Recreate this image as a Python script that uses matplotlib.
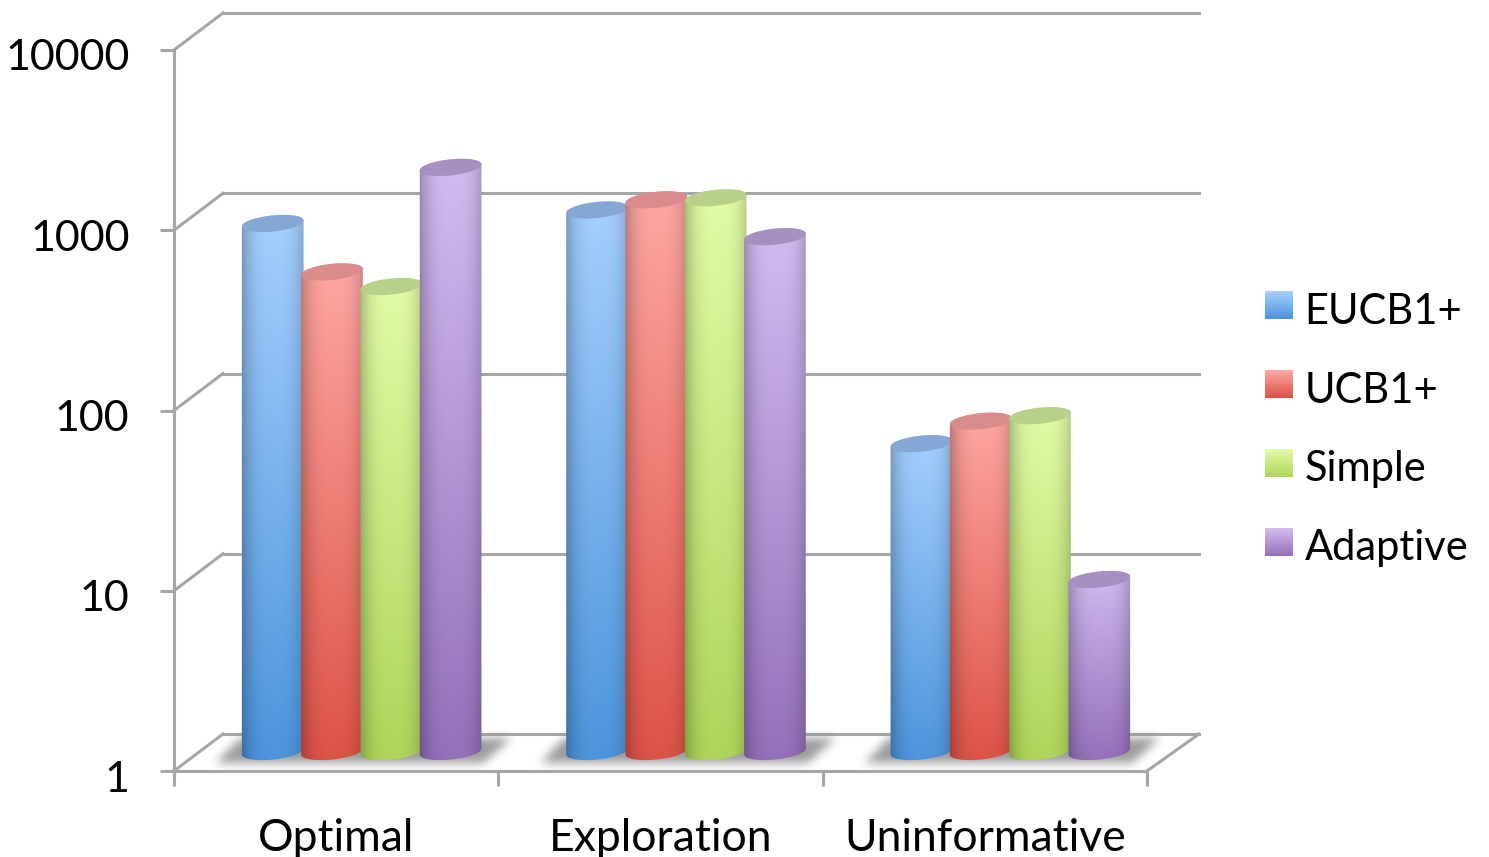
import numpy as np
import matplotlib
matplotlib.use("Agg")
import matplotlib.pyplot as plt
from matplotlib.path import Path
from matplotlib.patches import Patch, PathPatch
from matplotlib.transforms import Affine2D, IdentityTransform

categories = ["Optimal", "Exploration", "Uninformative"]
series_names = ["EUCB1+", "UCB1+", "Simple", "Adaptive"]
eucb_values = [850, 1010, 51]
ucb_values = [458, 1150, 68]
simple_values = [380, 1180, 73]
adaptive_values = [1740, 718, 9]
y_ticks = [1, 10, 100, 1000, 10000]
y_tick_labels = ["1", "10", "100", "1000", "10000"]

W, H = 1489, 857
GREY = "#a6a6a6"
FONT = "Lato"
LINE_W = 2.2
series_values = [eucb_values, ucb_values, simple_values, adaptive_values]
# (light, saturated, cap colour) per series
palette = [("#a6d0ff", "#4c94dc", "#84a8d3"),
           ("#ffa8a4", "#dd5246", "#d98c8b"),
           ("#e3fca8", "#aed55a", "#b9d08b"),
           ("#d3bcf2", "#9370ba", "#a690c3")]

plt.rcParams["font.family"] = [FONT, "DejaVu Sans"]
fig = plt.figure(figsize=(W / 100, H / 100), dpi=100)
ax = fig.add_axes([174 / W, 1 - 771 / H, (1147 - 174) / W, (771 - 50) / H])
ax.set_yscale("log")
ax.set_xlim(0, 3)
ax.set_ylim(1, 10000)
ax.set_autoscale_on(False)
ax.patch.set_alpha(0)
for side in ("top", "right"):
    ax.spines[side].set_visible(False)
for side in ("left", "bottom"):
    ax.spines[side].set_color(GREY)
    ax.spines[side].set_linewidth(LINE_W)
ax.set_yticks(y_ticks, y_tick_labels, fontsize=31)
ax.minorticks_off()
ax.set_xticks([0, 1, 2, 3], ["", "", "", ""])
ax.set_xticks([0.5, 1.5, 2.5], categories, minor=True, fontsize=32)
ax.tick_params(axis="y", colors=GREY, labelcolor="black", width=LINE_W, length=10, pad=22)
ax.tick_params(axis="x", which="major", colors=GREY, width=LINE_W, length=11)
ax.tick_params(axis="x", which="minor", length=0, pad=34, labelcolor="black")
for lab in ax.get_yticklabels():
    lab.set_transform(lab.get_transform() + Affine2D().translate(0, -5))

px = IdentityTransform()
to_px = lambda x, v: ax.transData.transform((x, v))

# Back wall, floor edges and the diagonals joining them to the front plane
BACK = np.array([49, 37])
for v in y_ticks:
    a = to_px(0, v)
    b = to_px(3, v)
    ax.add_line(plt.Line2D([a[0], a[0] + BACK[0]], [a[1], a[1] + BACK[1]], transform=px,
                           color=GREY, lw=LINE_W, zorder=1, clip_on=False))
    ax.add_line(plt.Line2D([a[0] + BACK[0], b[0] + 52], [a[1] + BACK[1], a[1] + BACK[1]],
                           transform=px, color=GREY, lw=LINE_W, zorder=1, clip_on=False))
a = to_px(3, 1)
ax.add_line(plt.Line2D([a[0], a[0] + 52], [a[1], a[1] + BACK[1]], transform=px,
                       color=GREY, lw=LINE_W, zorder=1, clip_on=False))

# Bars stand half way between the front and back planes
plane = ax.transData + Affine2D().translate(25.5, 19.5)
BAR_W = 59.3 / (973 / 3)
A, B = 31.0, 8.0
TILT = np.radians(6)


def hex_rgb(c):
    return np.array(matplotlib.colors.to_rgb(c))


def ellipse_pts(cx, cy, t):
    x, y = A * np.cos(t), B * np.sin(t)
    return np.c_[cx + x * np.cos(TILT) - y * np.sin(TILT),
                 cy + x * np.sin(TILT) + y * np.cos(TILT)]


def cylinder_image(light, sat, n=120):
    u = np.linspace(-1, 1, 128)
    shade = 1 - 0.24 * np.abs(u - 0.05) ** 3
    v = np.linspace(0, 1, n)[:, None, None]
    rgb = hex_rgb(light)[None, None, :] * (1 - v) + hex_rgb(sat)[None, None, :] * v
    return np.clip(rgb * shade[None, :, None], 0, 1)


def add_shadow(x0, x1, y):
    # Soft floor shadow: a skewed quad leaning right, blurred in both directions
    xs, ys = np.meshgrid(np.arange(W), np.arange(y - 45, y + 25))
    l, r = x0 - 28, x1 + 30
    quad = Path([(l, y - 13), (r - 28, y - 13), (r, y + 12), (l + 24, y + 12)])
    mask = quad.contains_points(np.c_[xs.ravel(), ys.ravel()]).reshape(xs.shape).astype(float)
    kern = np.hanning(25)
    kern /= kern.sum()
    mask = np.apply_along_axis(lambda m: np.convolve(m, kern, "same"), 0, mask)
    mask = np.apply_along_axis(lambda m: np.convolve(m, kern, "same"), 1, mask)
    img = np.zeros(mask.shape + (4,))
    img[..., :3] = 0.55
    img[..., 3] = mask * 0.85
    ax.imshow(img, extent=(0, W, y - 45, y + 25), origin="lower", transform=px,
              aspect="auto", zorder=2, clip_on=False)


for g in range(len(categories)):
    left = plane.transform((g + 0.5 - 2 * BAR_W, 1))
    right = plane.transform((g + 0.5 + 2 * BAR_W, 1))
    add_shadow(left[0], right[0], left[1])

for s, (name, vals, (light, sat, cap)) in enumerate(zip(series_names, series_values, palette)):
    for g, v in enumerate(vals):
        xc = g + 0.5 + (s - 1.5) * BAR_W
        z = 3 + s + g * 10
        rect = ax.bar(xc, v - 1, bottom=1, width=BAR_W, color=sat, transform=plane,
                      zorder=z, linewidth=0)[0]
        cx, y0 = plane.transform((xc, 1))
        _, y1 = plane.transform((xc, v))
        outline = np.vstack([ellipse_pts(cx, y0, np.linspace(np.pi, 2 * np.pi, 60)),
                             ellipse_pts(cx, y1, np.linspace(0, np.pi, 60))])
        body = Path(np.vstack([outline, outline[:1]]), closed=True)
        rect.set_clip_path(body, px)
        im = ax.imshow(cylinder_image(light, sat),
                       extent=(cx - A - 1, cx + A + 1, y0 - B - 6, y1 + B + 6), origin="upper",
                       transform=px, aspect="auto", zorder=z + 0.1, interpolation="bilinear")
        im.set_clip_path(body, px)
        top = ellipse_pts(cx, y1, np.linspace(0, 2 * np.pi, 90))
        ax.add_patch(PathPatch(Path(np.vstack([top, top[:1]]), closed=True), transform=px,
                               facecolor=cap, edgecolor="none", zorder=z + 0.2, clip_on=False))

handles = [Patch(facecolor=p[1], edgecolor="none", label=n) for n, p in zip(series_names, palette)]
leg = ax.legend(handles=handles, loc="center left", bbox_to_anchor=(1227 / W, 1 - 426 / H),
                bbox_transform=fig.transFigure, frameon=False, fontsize=30,
                handlelength=0.67, handleheight=0.65, labelspacing=0.98, handletextpad=0.29)
leg.set_zorder(1)
for t in leg.get_texts():
    t.set_transform(t.get_transform() + Affine2D().translate(0, -4))
fig.canvas.draw()

# Vertical gradient on each legend swatch
for h, (light, sat, _) in zip(leg.legend_handles, palette):
    bb = h.get_window_extent()
    v = np.linspace(0, 1, 32)[:, None, None]
    grad = hex_rgb(light)[None, None, :] * (1 - v) + hex_rgb(sat)[None, None, :] * v
    ax.imshow(grad, extent=(bb.x0, bb.x1, bb.y0, bb.y1), origin="upper", transform=px,
              aspect="auto", zorder=50, clip_on=False)
ax.set_xlim(0, 3)
ax.set_ylim(1, 10000)
fig.savefig("out.png", dpi=100, facecolor="white")
